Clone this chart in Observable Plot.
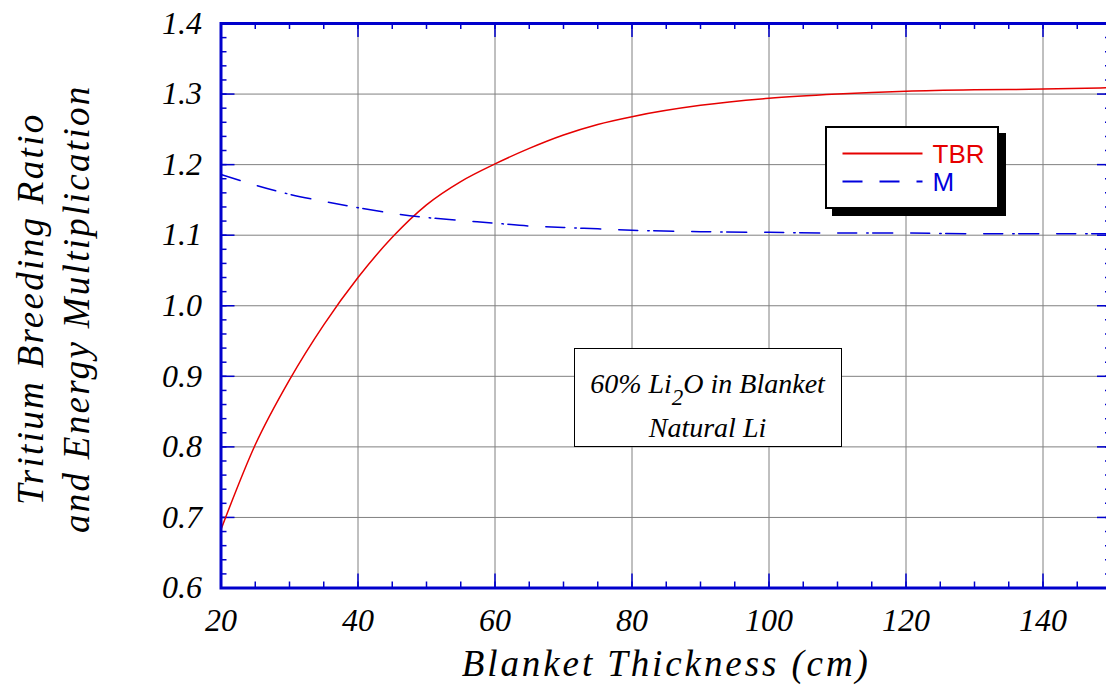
<!DOCTYPE html>
<html><head><meta charset="utf-8">
<script src="https://cdn.jsdelivr.net/npm/d3@7"></script>
<script src="https://cdn.jsdelivr.net/npm/@observablehq/plot@0.6"></script>
<style>
html,body{margin:0;padding:0;background:#fff;overflow:hidden;}
#wrap{position:relative;width:1106px;height:688px;overflow:hidden;}
#wrap svg.chart{position:absolute;left:0;top:0;}
.legend{position:absolute;left:825px;top:126px;width:174px;height:83px;box-sizing:border-box;border:2.5px solid #000;background:#fff;box-shadow:7px 7px 0 #000;}
.legend svg,.note svg{position:absolute;left:0;top:0;overflow:visible;}
.note{position:absolute;left:574px;top:348px;width:268px;height:99px;box-sizing:border-box;border:1.5px solid #000;background:#fff;}
</style></head>
<body><div id="wrap"></div>
<script>
// ---- data ----
const thickness = [20, 25, 30, 35, 40, 45, 50, 55, 60, 65, 70, 75, 80, 90, 100, 110, 120, 130, 140, 150];
const tbr       = [0.683, 0.803, 0.895, 0.973, 1.040, 1.097, 1.143, 1.176, 1.201, 1.223, 1.242, 1.257, 1.268, 1.284, 1.294, 1.300, 1.304, 1.306, 1.307, 1.309];
const mult      = [1.186, 1.171, 1.158, 1.148, 1.139, 1.131, 1.125, 1.121, 1.117, 1.113, 1.111, 1.109, 1.107, 1.105, 1.104, 1.103, 1.103, 1.102, 1.102, 1.102];
const seriesNames = ["TBR", "M"];
const xTicks = [20, 40, 60, 80, 100, 120, 140];
const yTicks = [0.6, 0.7, 0.8, 0.9, 1.0, 1.1, 1.2, 1.3, 1.4];
const xLabel = "Blanket Thickness (cm)";
const yLabel = "Tritium Breeding Ratio\nand Energy Multiplication";
const noteLine1 = ["60% Li", "2", "O in Blanket"];
const noteLine2 = "Natural Li";

// ---- layout ----
const W = 1106, H = 688, mL = 220.5, mT = 23, mB = 100.5, mR = -5;
const innerW = W - mL - mR, innerH = H - mT - mB;
const blue = "#0000cc", gray = "#808080", red = "#e60000", lineBlue = "#0000dd";
const MAJ = 14, MIN = 6;
const serif = "Liberation Serif, Times New Roman, serif";
const xMinor = d3.range(4, 31).map(d => d * 5);
const yMinor = d3.range(30, 71).map(d => d / 50);

const tbrData = thickness.map((t, i) => ({t, v: tbr[i]}));
const mData = thickness.map((t, i) => ({t, v: mult[i]}));

const tickStyle = {stroke: blue, strokeWidth: 1.5};
const chart = Plot.plot({
  width: W, height: H,
  marginLeft: mL, marginTop: mT, marginBottom: mB, marginRight: mR,
  x: {domain: [20, 150], axis: null},
  y: {domain: [0.6, 1.4], axis: null},
  style: {fontFamily: serif, background: "#fff"},
  marks: [
    Plot.ruleX(xTicks.slice(1), {x: d => d, stroke: gray, strokeWidth: 1}),
    Plot.ruleY(yTicks.slice(1, -1), {y: d => d, stroke: gray, strokeWidth: 1}),
    // inward ticks
    Plot.tickX(xMinor, {x: d => d, ...tickStyle, insetTop: innerH - MIN}),
    Plot.tickX(xMinor, {x: d => d, ...tickStyle, insetBottom: innerH - MIN}),
    Plot.tickX(xTicks, {x: d => d, ...tickStyle, insetTop: innerH - MAJ}),
    Plot.tickX(xTicks, {x: d => d, ...tickStyle, insetBottom: innerH - MAJ}),
    Plot.tickY(yMinor, {y: d => d, ...tickStyle, insetRight: innerW - MIN}),
    Plot.tickY(yMinor, {y: d => d, ...tickStyle, insetLeft: innerW - MIN}),
    Plot.tickY(yTicks, {y: d => d, ...tickStyle, insetRight: innerW - MAJ}),
    Plot.tickY(yTicks, {y: d => d, ...tickStyle, insetLeft: innerW - MAJ}),
    // series
    Plot.line(tbrData, {x: "t", y: "v", stroke: red, strokeWidth: 1.5, curve: "monotone-x"}),
    Plot.line(mData, {x: "t", y: "v", stroke: lineBlue, strokeWidth: 1.5, curve: "monotone-x",
      strokeDasharray: "20,18,19,10,1.5,4.5"}),
    Plot.frame({stroke: blue, strokeWidth: 3}),
    // tick labels
    Plot.text(xTicks, {x: d => d, text: d => String(d), frameAnchor: "bottom", lineAnchor: "top",
      dy: 20, fontSize: 32, fontStyle: "italic", fontFamily: serif, fill: "#000"}),
    Plot.text(yTicks, {y: d => d, text: d => d3.format(".1f")(d), frameAnchor: "left", textAnchor: "end",
      dx: -19, fontSize: 32, fontStyle: "italic", fontFamily: serif, fill: "#000"}),
    // axis titles
    Plot.text([xLabel], {text: d => d, frameAnchor: "bottom", lineAnchor: "bottom", textAnchor: "middle", dy: 87.5,
      fontSize: 37, fontStyle: "italic", fontFamily: serif, fill: "#000"}),
    Plot.text([yLabel], {text: d => d, frameAnchor: "left", rotate: -90, lineAnchor: "middle", textAnchor: "middle",
      lineHeight: 1.22, dx: 51 - mL, dy: 3, fontSize: 37, fontStyle: "italic", fontFamily: serif, fill: "#000"})
  ]
});
chart.classList.add("chart");
d3.select(chart).selectAll("text").filter(function() { return this.textContent === xLabel; })
  .style("letter-spacing", "2.9px");
d3.select(chart).selectAll("tspan").filter(function() { return yLabel.split("\n").includes(this.textContent); })
  .style("letter-spacing", "2.3px");

const wrap = document.getElementById("wrap");
wrap.appendChild(chart);

// legend (inside plot area)
const leg = document.createElement("div");
leg.className = "legend";
leg.innerHTML = `<svg width="170" height="80" font-family="Liberation Sans, Arial, sans-serif" font-size="26">
  <line x1="15.5" x2="95.5" y1="25.5" y2="25.5" stroke="${red}" stroke-width="2"/>
  <text x="105.5" y="34.5" fill="${red}">${seriesNames[0]}</text>
  <line x1="15.5" x2="95.5" y1="53.5" y2="53.5" stroke="${lineBlue}" stroke-width="2" stroke-dasharray="20,17"/>
  <text x="105.5" y="62.5" fill="${lineBlue}">${seriesNames[1]}</text>
</svg>`;
wrap.appendChild(leg);

// annotation box
const note = document.createElement("div");
note.className = "note";
note.innerHTML = `<svg width="265" height="96" font-family="${serif}" font-style="italic" font-size="28" text-anchor="middle">
  <text x="132.5" y="44">${noteLine1[0]}<tspan dy="12" font-size="23">${noteLine1[1]}</tspan><tspan dy="-12">${noteLine1[2]}</tspan></text>
  <text x="132.5" y="88">${noteLine2}</text>
</svg>`;
wrap.appendChild(note);
</script>
</body></html>
